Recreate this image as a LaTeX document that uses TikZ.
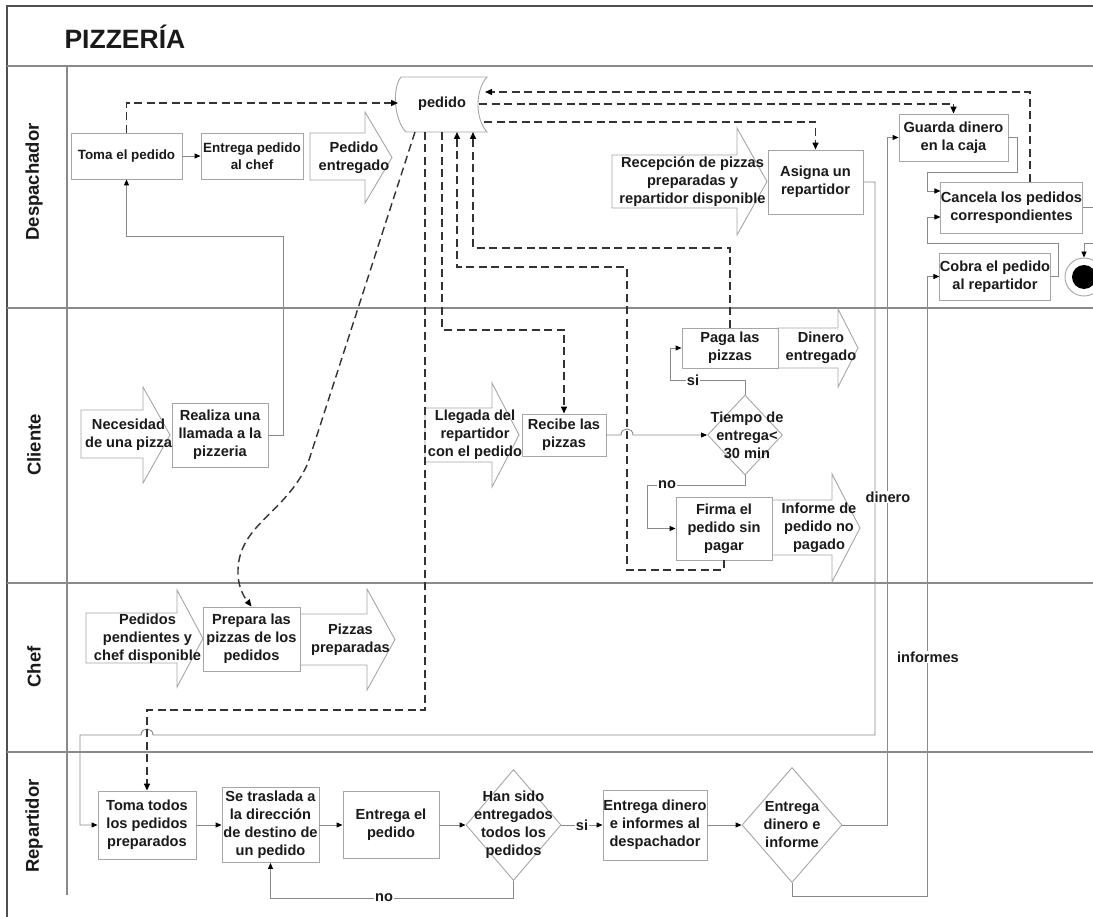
\documentclass[tikz,border=0pt]{standalone}
\usepackage{fontspec}
\setmainfont{Liberation Sans}
\usetikzlibrary{arrows.meta,shapes.geometric,calc}

\definecolor{boxline}{HTML}{A6A6A6}
\definecolor{conline}{HTML}{8A8A8A}
\definecolor{dashline}{HTML}{333333}
\definecolor{frameline}{HTML}{505050}
\definecolor{inkc}{HTML}{1A1A1A}

\tikzset{
  every node/.style={font=\fontsize{14.6}{18}\selectfont\bfseries, text=inkc},
  proc/.style={draw=boxline, fill=white, line width=0.9pt, inner sep=0pt, align=center},
  dia/.style={draw=boxline, fill=white, line width=0.9pt, diamond, inner sep=0pt},
  barr/.style={draw=boxline, fill=white, line width=0.9pt, line join=miter},
  txt/.style={align=center, inner sep=0pt},
  flow/.style={draw=conline, line width=0.9pt, -{Triangle[length=6pt,width=5pt,color=black]}},
  dflow/.style={draw=dashline, line width=1.4pt, dash pattern=on 8pt off 4.5pt,
                -{Triangle[length=7pt,width=6pt,color=black]}},
  lane/.style={draw=conline, line width=1.2pt},
  tag/.style={fill=white, inner sep=1pt},
  lanename/.style={rotate=90, font=\fontsize{18.5}{20}\selectfont\bfseries},
  smalltext/.style={font=\fontsize{13.4}{17}\selectfont\bfseries},
}

% block arrow: name, left x, head x, tip x, body top, body bottom, head top, head bottom, text
\newcommand{\pzarrow}[9]{%
  \draw[barr] (#2,#5) -- (#3,#5) -- (#3,#7) -- (#4,{(#7+#8)/2}) -- (#3,#8) -- (#3,#6) -- (#2,#6) -- cycle;
  \node[txt] (#1) at ({(#2+#4)/2+3},{(#7+#8)/2}) {#9};
}

\begin{document}
\begin{tikzpicture}[x=1pt,y=-1pt]
\useasboundingbox (0,0) rectangle (1093,917);
\begin{scope}
\clip (0,0) rectangle (1093,917);
\fill[white] (0,0) rectangle (1093,917);

% pool frame and lanes
\draw[frameline, line width=1.3pt] (1093,6) -- (7,6) -- (7,917);
\draw[lane] (7,66) -- (1093,66);
\draw[lane] (7,308) -- (1093,308);
\draw[lane] (7,583) -- (1093,583);
\draw[lane] (7,752) -- (1093,752);
\draw[lane] (67,66) -- (67,895);

\node[font=\fontsize{26.5}{30}\selectfont\bfseries, anchor=base west] (title) at (61,49) {PIZZERÍA};
\node[lanename] (laneD) at (34,182) {Despachador};
\node[lanename] (laneC) at (34,445) {Cliente};
\node[lanename] (laneF) at (34,667) {Chef};
\node[lanename] (laneR) at (34,826) {Repartidor};

% data store "pedido"
\draw[barr] (401,77) -- (487,77) .. controls (475,90) and (475,119) .. (487,132)
  -- (406,132) .. controls (394,120) and (392,88) .. (401,77) -- cycle;
\node[txt] (pedido) at (442,104) {pedido};
\coordinate (pL)  at (398,103);
\coordinate (pR1) at (485,92);
\coordinate (pR2) at (479,104);
\coordinate (pR3) at (484,122);
\coordinate (pB0) at (415,132);
\coordinate (pB1) at (425,132);
\coordinate (pB2) at (442,132);
\coordinate (pB3) at (457,132);
\coordinate (pB4) at (473,132);

% block arrows (inputs / outputs)
\pzarrow{pedent}{310}{365}{392}{133}{180}{112}{203}{Pedido\\entregado}
\pzarrow{recep}{612}{737}{767}{155}{208}{128}{235}{Recepción de pizzas\\preparadas y\\repartidor disponible}
\pzarrow{necesidad}{81}{143}{170}{410}{458}{387}{483}{Necesidad\\de una pizza}
\pzarrow{llegada}{425}{492}{519}{408}{462}{383}{487}{Llegada del\\repartidor\\con el pedido}
\pzarrow{dinent}{778}{838}{858}{328}{368}{309}{387}{Dinero\\entregado}
\pzarrow{informe}{772}{832}{860}{500}{555}{474}{582}{Informe de\\pedido no\\pagado}
\pzarrow{pendientes}{86}{177}{203}{613}{663}{590}{687}{Pedidos\\pendientes y\\chef disponible}
\pzarrow{pizzasprep}{300}{367}{395}{614}{665}{589}{690}{Pizzas\\preparadas}

% Despachador
\node[proc, smalltext, minimum width=111, minimum height=46] (toma) at (126.5,156) {Toma el pedido};
\node[proc, smalltext, minimum width=102, minimum height=46] (entrega) at (252,156) {Entrega pedido\\al chef};
\node[proc, minimum width=95, minimum height=64] (asigna) at (815.5,182) {Asigna un\\repartidor};
\node[proc, minimum width=109, minimum height=47] (guarda) at (953.5,137.5) {Guarda dinero\\en la caja};
\node[proc, minimum width=139, minimum height=51] (cancela) at (1011.5,207.5) {Cancela los pedidos\\correspondientes};
\node[proc, minimum width=110, minimum height=47] (cobra) at (995,276.5) {Cobra el pedido\\al repartidor};
\node[circle, draw=boxline, fill=white, line width=0.9pt, minimum size=38, inner sep=0pt] (endc) at (1084,277) {};
\fill[black] (endc.center) circle[radius=12];

% Cliente
\node[proc, minimum width=96, minimum height=64] (realiza) at (220,435) {Realiza una\\llamada a la\\pizzeria};
\node[proc, minimum width=84, minimum height=42] (recibe) at (564,435) {Recibe las\\pizzas};
\node[dia, minimum width=75, minimum height=80] (tiempo) at (745,435) {};
\node[txt] (tiempoT) at (747,435) {Tiempo de\\entrega<\\30 min};
\node[proc, minimum width=96, minimum height=40] (paga) at (730,348) {Paga las\\pizzas};
\node[proc, minimum width=96, minimum height=63] (firma) at (724,528.5) {Firma el\\pedido sin\\pagar};

% Chef
\node[proc, minimum width=97, minimum height=64] (prepara) at (251.5,639) {Prepara las\\pizzas de los\\pedidos};

% Repartidor
\node[proc, minimum width=98, minimum height=68] (tomatodos) at (147,825) {Toma todos\\los pedidos\\preparados};
\node[proc, minimum width=97, minimum height=75] (traslada) at (270.5,825) {Se traslada a\\la dirección\\de destino de\\un pedido};
\node[proc, minimum width=96, minimum height=67] (entregaped) at (391,825) {Entrega el\\pedido};
\node[dia, minimum width=95, minimum height=111] (hansido) at (513.5,825) {};
\node[txt] (hansidoT) at (513.5,825) {Han sido\\entregados\\todos los\\pedidos};
\node[proc, minimum width=104, minimum height=70] (entdinero) at (655,825) {Entrega dinero\\e informes al\\despachador};
\node[dia, minimum width=100, minimum height=115] (entinf) at (792,825) {};
\node[txt] (entinfT) at (792,825) {Entrega\\dinero e\\informe};

% control flow
\draw[flow] (toma.east) -- (entrega.west);
\draw[flow] (realiza.east) -- (283,435) -- (283,236) -| (toma.south);
\draw[flow] (recibe.east) -- (621,435) .. controls (621,427) and (633,427) .. (633,435) -- (tiempo.west);
\draw[flow] (tiempo.north) -- (745,380) -- (670,380) |- (paga.west);
\draw[flow] (tiempo.south) -- (745,485) -- (647,485) |- (firma.west);
\draw[flow] (asigna.east) -- (875,182) -- (875,735) -- (153,735)
  .. controls (153,727) and (141,727) .. (141,735) -- (80,735) |- (tomatodos.west);
\draw[flow] (tomatodos.east) -- (traslada.west);
\draw[flow] (traslada.east) -- (entregaped.west);
\draw[flow] (entregaped.east) -- (hansido.west);
\draw[flow] (hansido.south) -- (513.5,898) -| (traslada.south);
\draw[flow] (hansido.east) -- (entdinero.west);
\draw[flow] (entdinero.east) -- (entinf.west);
\draw[flow] (entinf.east) -- (887,825) |- (guarda.west);
\draw[flow] (entinf.south) -- (792,896) -- (927,896) |- (cobra.west);
\draw[flow] (guarda.east) -- (1017,137.5) -- (1017,172) -- (927,172) |- ([yshift=16.5pt]cancela.west);
\draw[flow] (cobra.east) -- (1058,276.5) -- (1058,243) -- (927,243) |- ([yshift=-9.5pt]cancela.west);
\draw[flow] (cancela.east) -- (1100,207.5) -- (1100,243) -- (1084,243) -- (endc.north);

% object flow of the order
\draw[dflow] (toma.north) |- (pL);
\draw[dflow] (pR2) -| (guarda.north);
\draw[dflow] (pR3) -| (asigna.north);
\draw[dflow] ([xshift=18.5pt]cancela.north) |- (pR1);
\draw[dflow] (pB0) -- (308,463) .. controls (285,515) and (236,525) .. (238,575)
  .. controls (239,590) and (245,598) .. (prepara.north);
\draw[dflow] (pB1) -- (425,710) -| (tomatodos.north);
\draw[dflow] (pB2) -- (442,330) -| (recibe.north);
\draw[dflow] (firma.south) -- (724,570) -- (627,570) -- (627,267) -- (457,267) -- (pB3);
\draw[dflow] (paga.north) -- (730,248) -- (473,248) -- (pB4);

% flow labels
\node[tag] (lsi1) at (693,380) {si};
\node[tag] (lno1) at (667,485) {no};
\node[tag] (lno2) at (384,898) {no};
\node[tag] (lsi2) at (582,825) {si};
\node[tag] (ldin) at (888,497) {dinero};
\node[tag] (linf) at (928,657) {informes};
\end{scope}
\end{tikzpicture}
\end{document}
